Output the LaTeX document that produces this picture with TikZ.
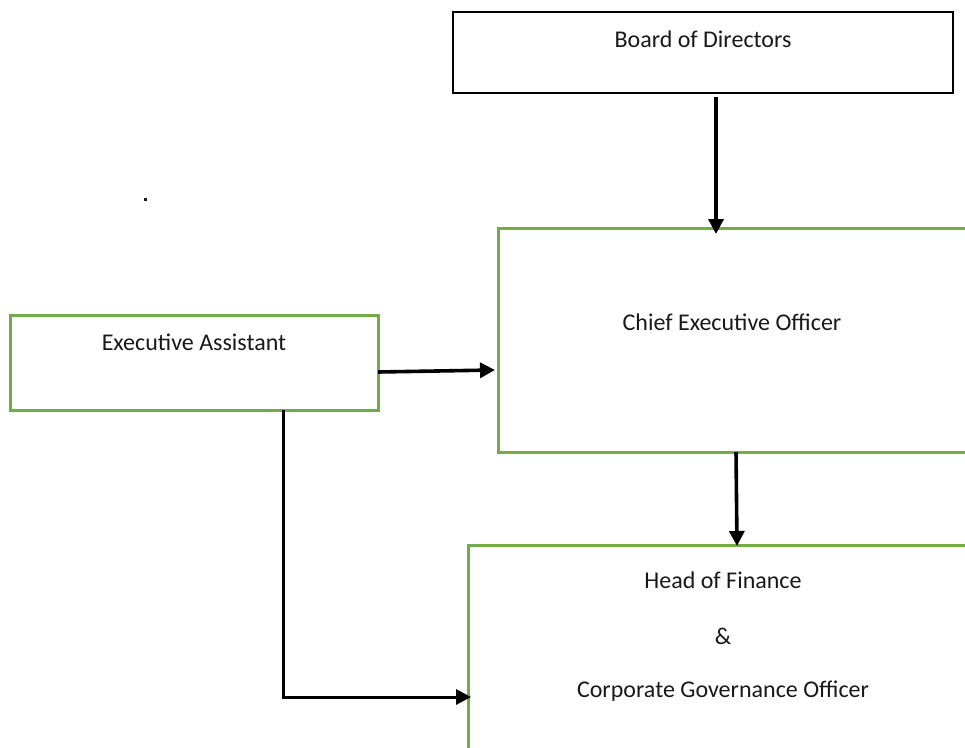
\documentclass[tikz,border=0pt]{standalone}
\usepackage{fontspec}
\setmainfont{Carlito}
\usetikzlibrary{arrows.meta,calc}
\definecolor{boxgreen}{RGB}{112,173,71}
\definecolor{txt}{RGB}{25,25,25}
\tikzset{
  box/.style={draw, rectangle, inner sep=0pt, outer sep=0pt, fill=none},
  greenbox/.style={box, draw=boxgreen, line width=3pt},
  blackbox/.style={box, draw=black, line width=2.4pt},
  lbl/.style={inner sep=0pt, text=txt, font=\fontsize{24}{28}\selectfont},
  arr/.style={draw=black, line width=3.6pt, -{Triangle[length=15pt,width=15pt]}},
  elbow/.style={draw=black, line width=3pt, -{Triangle[length=15pt,width=15pt]}}
}
\begin{document}
\begin{tikzpicture}[x=1pt,y=-1pt]
\useasboundingbox (0,0) rectangle (965,747);
\clip (0,0) rectangle (965,747);
\fill[white] (0,0) rectangle (965,747);
% boxes
\node[blackbox, minimum width=500pt, minimum height=81pt] (board) at (703,52.5) {};
\node[greenbox, minimum width=502pt, minimum height=224pt] (ceo) at (749,340) {};
\node[greenbox, minimum width=368pt, minimum height=95pt] (ea) at (194,362.5) {};
\node[greenbox, minimum width=532pt, minimum height=255pt] (hof) at (734,672.5) {};
% labels
\node[lbl] (boardt) at (703,39) {Board of Directors};
\node[lbl] (ceot) at (732,322) {Chief Executive Officer};
\node[lbl] (eat) at (194,342) {Executive Assistant};
\node[lbl] (hoft1) at (723,580) {Head of Finance};
\node[lbl] (hoft2) at (723,636) {\&};
\node[lbl] (hoft3) at (723,691) {Corporate Governance Officer};
% dot
\fill[txt] (143.5,197.5) rectangle (147,200.5);
% connectors
\coordinate (b1) at ($(board.south west)+(263,4)$);
\coordinate (c1) at ($(ceo.north west)+(218,6)$);
\draw[arr] (b1) -- (c1);
\coordinate (e1) at ($(ea.east)+(0,9.5)$);
\coordinate (c2) at ($(ceo.west)+(-3,30)$);
\draw[arr] (e1) -- (c2);
\coordinate (c3) at ($(ceo.south west)+(238,0)$);
\coordinate (h1) at ($(hof.north west)+(269,1)$);
\draw[arr] (c3) -- (h1);
\coordinate (e2) at ($(ea.south west)+(273,0)$);
\coordinate (h2) at ($(hof.west)+(3,24.5)$);
\draw[elbow] (e2) |- (h2);
\end{tikzpicture}
\end{document}
